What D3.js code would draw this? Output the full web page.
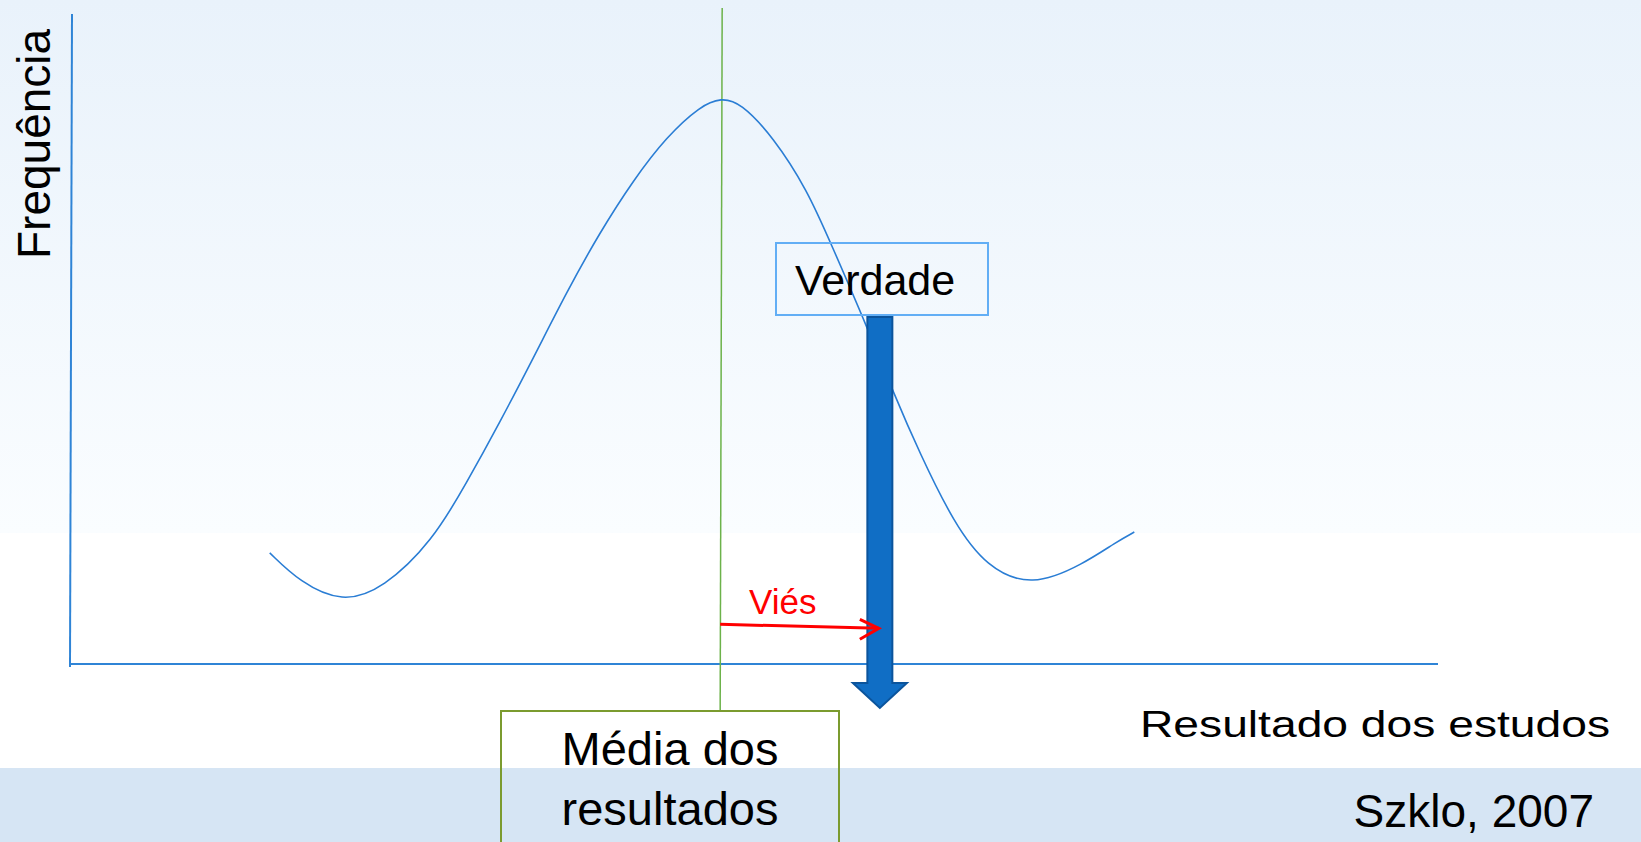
<!DOCTYPE html>
<html>
<head>
<meta charset="utf-8">
<script src="https://cdnjs.cloudflare.com/ajax/libs/d3/7.8.5/d3.min.js"></script>
<style>
  body { margin: 0; overflow: hidden; }
  text { font-family: "Liberation Sans", Arial, sans-serif; }
</style>
</head>
<body>
<script>
// curve of study results (x = resultado, y = frequência)
var resultX = [14.6, 16.8, 19.9, 22.9, 26.5, 29.0, 31.4, 33.9, 36.3, 38.7, 41.2, 43.6, 46.1, 47.6,
               49.0, 51.4, 53.9, 55.6, 58.3, 60.2, 62.1, 64.6, 67.0, 70.3, 74.1, 76.5, 77.8];
var freqY   = [17.1, 12.6, 9.4, 11.6, 18.9, 27.9, 37.1, 47.2, 57.2, 66.3, 74.5, 81.1, 85.9, 87.1,
               86.4, 81.1, 72.9, 64.8, 51.7, 41.7, 32.5, 21.7, 14.9, 11.8, 15.4, 18.8, 20.3];

// reference values
var meanValue = 47.6;     // média dos resultados
var truthValue = 59.2;    // verdade
var truthTop = 53.4;      // top of the "verdade" arrow
var biasLevel = 5.8;      // height of the "viés" arrow

// labels
var yLabel = "Frequência";
var xLabel = "Resultado dos estudos";
var meanLabel = ["Média dos", "resultados"];
var truthLabel = "Verdade";
var biasLabel = "Viés";
var sourceLabel = "Szklo, 2007";

var width = 1641,
    height = 842;

var x = d3.scaleLinear().domain([0, 100]).range([70, 1438]);
var y = d3.scaleLinear().domain([0, 100]).range([664, 14]);

var svg = d3.select("body").append("svg")
    .attr("width", width)
    .attr("height", height);

// slide background
var defs = svg.append("defs");
var grad = defs.append("linearGradient")
    .attr("id", "bg")
    .attr("x1", 0).attr("y1", 0).attr("x2", 0).attr("y2", 1);
grad.append("stop").attr("offset", "0%").attr("stop-color", "#e9f2fb");
grad.append("stop").attr("offset", "100%").attr("stop-color", "#fafdff");

svg.append("rect")
    .attr("width", width).attr("height", height)
    .attr("fill", "#ffffff");
svg.append("rect")
    .attr("width", width).attr("height", 533)
    .attr("fill", "url(#bg)");
svg.append("rect")
    .attr("y", 768)
    .attr("width", width).attr("height", height - 768)
    .attr("fill", "#d6e5f4");

// axes
svg.append("line")
    .attr("x1", x(0) + 2).attr("y1", y(100))
    .attr("x2", x(0)).attr("y2", y(0) + 3)
    .attr("stroke", "#2f84d6").attr("stroke-width", 2);
svg.append("line")
    .attr("x1", x(0)).attr("y1", y(0))
    .attr("x2", x(100)).attr("y2", y(0))
    .attr("stroke", "#2f84d6").attr("stroke-width", 2);

// mean line
svg.append("line")
    .attr("x1", x(meanValue) + 1).attr("y1", 8)
    .attr("x2", x(meanValue) - 1).attr("y2", 711)
    .attr("stroke", "#6cb24a").attr("stroke-width", 1.5);

// the curve
var line = d3.line()
    .x(function(d, i) { return x(resultX[i]); })
    .y(function(d, i) { return y(freqY[i]); })
    .curve(d3.curveBasis);

svg.append("path")
    .datum(freqY)
    .attr("d", line)
    .attr("fill", "none")
    .attr("stroke", "#2a7dd4")
    .attr("stroke-width", 1.6);

// "Verdade" box
var tx = x(truthValue);
svg.append("rect")
    .attr("x", 776).attr("y", 243)
    .attr("width", 212).attr("height", 72)
    .attr("fill", "none")
    .attr("stroke", "#62aef5").attr("stroke-width", 2);
svg.append("text")
    .attr("x", 795).attr("y", 295)
    .attr("font-size", 43)
    .attr("fill", "#000")
    .text(truthLabel);

// big blue arrow pointing down at the truth
var headTop = y(0) + 19,
    tip = y(0) + 44;
var arrowPts = [
    [tx - 12.5, y(truthTop)], [tx + 12.5, y(truthTop)], [tx + 12.5, headTop],
    [tx + 27, headTop], [tx, tip], [tx - 27, headTop], [tx - 12.5, headTop]
];
svg.append("path")
    .attr("d", "M" + arrowPts.join("L") + "Z")
    .attr("fill", "#106ec5")
    .attr("stroke", "#0b549c")
    .attr("stroke-width", 2)
    .attr("stroke-linejoin", "miter");

// bias arrow
var bx0 = x(meanValue) - 1, by0 = y(biasLevel) - 2,
    bx1 = x(truthValue) - 1, by1 = y(biasLevel) + 2;
svg.append("line")
    .attr("x1", bx0).attr("y1", by0)
    .attr("x2", bx1).attr("y2", by1)
    .attr("stroke", "#ff0000").attr("stroke-width", 3);
svg.append("path")
    .attr("d", "M" + (bx1 - 19) + "," + (by1 - 9) + "L" + bx1 + "," + by1 + "L" + (bx1 - 19) + "," + (by1 + 11))
    .attr("fill", "none")
    .attr("stroke", "#ff0000").attr("stroke-width", 3);
svg.append("text")
    .attr("x", 749).attr("y", 614)
    .attr("font-size", 35)
    .attr("fill", "#ff0000")
    .text(biasLabel);

// "Média dos resultados" box
svg.append("rect")
    .attr("x", 501).attr("y", 711)
    .attr("width", 338).attr("height", 160)
    .attr("fill", "none")
    .attr("stroke", "#7b9b2f").attr("stroke-width", 2);
svg.append("text")
    .attr("x", 670).attr("y", 765)
    .attr("text-anchor", "middle")
    .attr("font-size", 47)
    .text(meanLabel[0]);
svg.append("text")
    .attr("x", 670).attr("y", 825)
    .attr("text-anchor", "middle")
    .attr("font-size", 47)
    .text(meanLabel[1]);

// axis titles
svg.append("text")
    .attr("transform", "translate(50,259) rotate(-90)")
    .attr("font-size", 46)
    .text(yLabel);

svg.append("text")
    .attr("x", 1140).attr("y", 737)
    .attr("font-size", 37)
    .attr("textLength", 470)
    .attr("lengthAdjust", "spacingAndGlyphs")
    .text(xLabel);

svg.append("text")
    .attr("x", 1594).attr("y", 827)
    .attr("text-anchor", "end")
    .attr("font-size", 46)
    .text(sourceLabel);
</script>
</body>
</html>
